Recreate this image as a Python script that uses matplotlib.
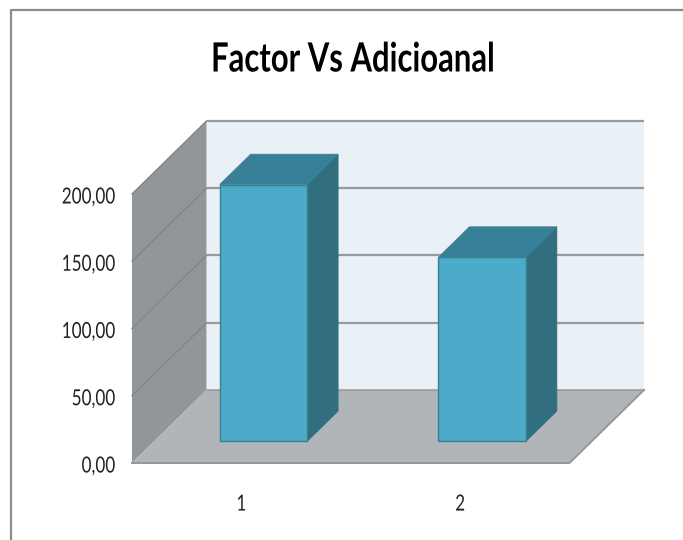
import matplotlib
matplotlib.use("Agg")
import matplotlib.pyplot as plt
from matplotlib.lines import Line2D
from matplotlib.patches import Polygon
from matplotlib.patheffects import AbstractPathEffect
from matplotlib.transforms import Affine2D

categories = [1, 2]
values = [191, 137]
y_ticks = [0, 50, 100, 150, 200]
y_labels = ["0,00", "50,00", "100,00", "150,00", "200,00"]
title = "Factor Vs Adicioanal"

W, H = 683, 540
plt.rcParams["font.family"] = ["Lato", "DejaVu Sans"]


class Squeeze(AbstractPathEffect):
    # the reference font is narrower than anything installed, so squash about a pixel x
    def __init__(self, sx, cx, dy=0):
        super().__init__()
        self.sx = sx
        self.cx = cx
        self.dy = dy

    def draw_path(self, renderer, gc, tpath, affine, rgbFace=None):
        squash = Affine2D().translate(-self.cx, 0).scale(self.sx, 1).translate(self.cx, self.dy)
        renderer.draw_path(gc, tpath, affine + squash, rgbFace)


fig = plt.figure(figsize=(W / 100, H / 100), dpi=100, facecolor="white")
# front plane of the fake 3d box, pixels from the reference
ax = fig.add_axes([132 / W, (H - 463) / H, 437.5 / W, 269 / H])
ax.set_xlim(0.5, 2.5)
ax.set_ylim(0, 200)
ax.patch.set_alpha(0)
for s in ax.spines.values():
    s.set_visible(False)

# depth of the box in data units
depth_x = 74.5 / 218.75
depth_y = 73 / 1.345
x0, x1 = 0.5, 2.5


def p(x, y, d):
    return (x + d * depth_x, y + d * depth_y)


def face(pts, color, edge=None, lw=0, z=1):
    ax.add_patch(Polygon(pts, closed=True, facecolor=color, edgecolor=edge or color,
                         linewidth=lw, clip_on=False, zorder=z))


top = y_ticks[-1]
# walls
face([p(x0, 0, 1), p(x1, 0, 1), p(x1, top, 1), p(x0, top, 1)], "#e9f0f6", z=1)
face([p(x0, 0, 0), p(x0, 0, 1), p(x0, top, 1), p(x0, top, 0)], "#919698", z=1)

# gridlines, back wall and side wall
for t in y_ticks[1:]:
    a, b, c = p(x0, t, 0), p(x0, t, 1), p(x1, t, 1)
    ax.plot([a[0], b[0]], [a[1], b[1]], color="#808586", lw=1.0, clip_on=False, zorder=2)
    ax.plot([b[0], c[0]], [b[1], c[1]], color="#9a9a9a", lw=1.6, clip_on=False, zorder=2,
            solid_capstyle="butt")

# floor
face([p(x0, 0, 0), p(x1, 0, 0), p(x1, 0, 1), p(x0, 0, 1)], "#b1b5b8", z=3)
a, b, c = p(x0, 0, 0), p(x1, 0, 0), p(x1, 0, 1)
ax.plot([a[0], b[0], c[0]], [a[1], b[1], c[1]], color="#949698", lw=1.4, clip_on=False, zorder=3)
a, b = p(x0, 0, 1), p(x1, 0, 1)
ax.plot([a[0], b[0]], [a[1], b[1]], color="#999c9e", lw=1.2, clip_on=False, zorder=3)

# bars
bar_w = 0.4
d_front, d_back = 22 / 74.5, 53 / 74.5
for cat, v in zip(categories, values):
    l, r = cat - bar_w / 2, cat + bar_w / 2
    face([p(l, 0, d_front), p(r, 0, d_front), p(r, v, d_front), p(l, v, d_front)],
         "#4babc8", "#37808f", 1.0, z=5)
    face([p(r, 0, d_front), p(r, 0, d_back), p(r, v, d_back), p(r, v, d_front)],
         "#316e80", "#316e80", 0.5, z=4)
    face([p(l, v, d_front), p(r, v, d_front), p(r, v, d_back), p(l, v, d_back)],
         "#388097", "#388097", 0.5, z=4)

ax.set_yticks(y_ticks)
ax.set_yticklabels(y_labels)
ax.set_xticks(categories)
ax.set_xticklabels([str(c) for c in categories])
ax.tick_params(axis="y", length=0, pad=12, labelsize=16, labelcolor="#222222")
ax.tick_params(axis="x", length=0, pad=22, labelsize=16, labelcolor="#222222")

for lab in ax.get_yticklabels():
    lab.set_path_effects([Squeeze(0.77, 115, dy=-1.5)])
for lab, cat in zip(ax.get_xticklabels(), categories):
    cx = ax.transData.transform((cat, 0))[0]
    lab.set_path_effects([Squeeze(0.77, cx, dy=-1)])

t = fig.text(353 / W, 1 - 60 / H, title, ha="center", va="center", fontsize=29,
             fontweight="bold", color="black")
t.set_path_effects([Squeeze(0.77, 353)])

# chart frame
fig.add_artist(Line2D([11 / W, 11 / W, 1], [0, 1 - 10 / H, 1 - 10 / H], color="#8c8c8c", lw=1.6))

fig.savefig("out.png", dpi=100)
